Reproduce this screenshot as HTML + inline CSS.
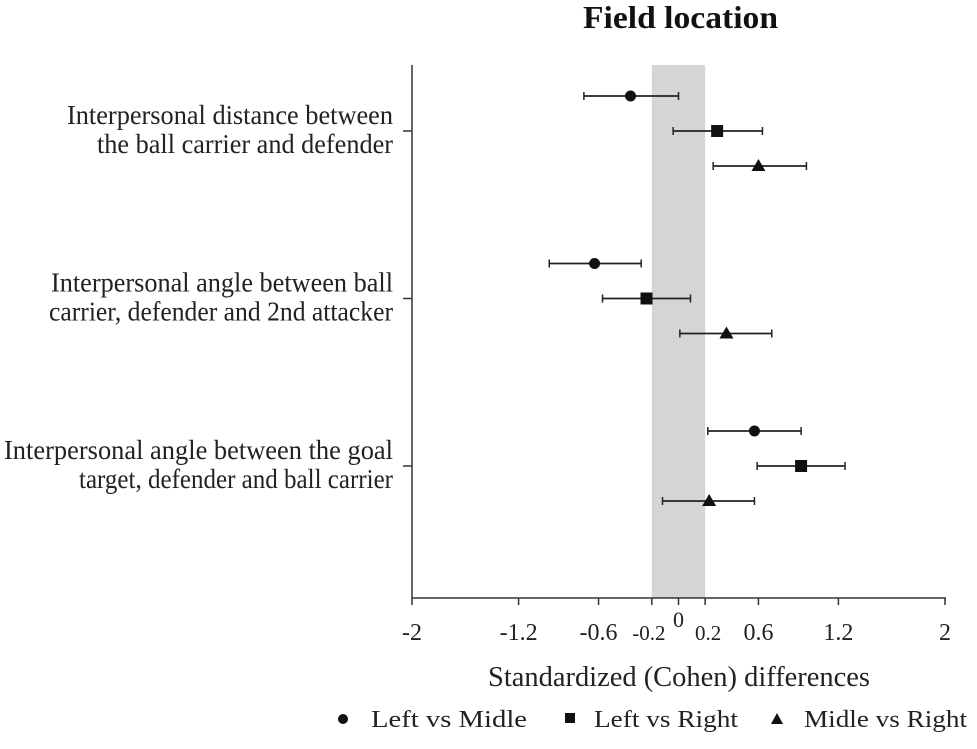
<!DOCTYPE html>
<html><head><meta charset="utf-8"><style>
body{margin:0;background:#fff;}
svg{display:block;font-family:"Liberation Serif",serif;}
</style></head><body>
<svg id="chart" width="977" height="749" viewBox="0 0 977 749">
<text x="583" y="28" textLength="195" lengthAdjust="spacingAndGlyphs" font-size="32" font-weight="bold" fill="#111">Field location</text>
<g id="plot"></g>
<g font-size="24" fill="#222">
<g><circle cx="343" cy="719" r="5" fill="#111"/><text x="371" y="727" textLength="156" lengthAdjust="spacingAndGlyphs">Left vs Midle</text></g>
<g><rect x="565" y="713" width="10" height="10" fill="#111"/><text x="594" y="727" textLength="144" lengthAdjust="spacingAndGlyphs">Left vs Right</text></g>
<g><polygon points="777,713 783,724 771,724" fill="#111"/><text x="804" y="727" textLength="163" lengthAdjust="spacingAndGlyphs">Midle vs Right</text></g>
</g>
</svg>
<script>
const categories=[["Interpersonal distance between","the ball carrier and defender"],["Interpersonal angle between ball","carrier, defender and 2nd attacker"],["Interpersonal angle between the goal","target, defender and ball carrier"]];
const catWidths=[[326,296],[342,344],[389,314]];
const seriesNames=["Left vs Midle","Left vs Right","Midle vs Right"];
const estimates=[[-0.36,0.29,0.60],[-0.63,-0.24,0.36],[0.57,0.92,0.23]];
const lowers=[[-0.71,-0.04,0.26],[-0.97,-0.57,0.01],[0.22,0.59,-0.12]];
const uppers=[[0.00,0.63,0.96],[-0.28,0.09,0.70],[0.92,1.25,0.57]];
const tickValues=[-2,-1.2,-0.6,-0.2,0,0.2,0.6,1.2,2];
const tickLabels=["-2","-1.2","-0.6","-0.2","0","0.2","0.6","1.2","2"];
const bandRange=[-0.2,0.2];

const NS="http://www.w3.org/2000/svg";
const g=document.getElementById('plot');
const x=v=>678.5+v*133.25;
const yCat=i=>131+i*167.5;
const offs=[-35,0,35];
function el(t,a,p){const e=document.createElementNS(NS,t);for(const k in a)e.setAttribute(k,a[k]);(p||g).appendChild(e);return e;}

const band=el('rect',{x:x(bandRange[0]),y:65,width:x(bandRange[1])-x(bandRange[0]),height:533,fill:'#d3d6d3'});


const ya=el('line',{x1:412,y1:65,x2:412,y2:598,stroke:'#333','stroke-width':1.5});


const xa=el('line',{x1:412,y1:598,x2:946,y2:598,stroke:'#333','stroke-width':1.5});


tickValues.forEach((v,i)=>{
  el('line',{x1:x(v),y1:598,x2:x(v),y2:605,stroke:'#333','stroke-width':1.5});
  const small=Math.abs(v)===0.2;
  const t=el('text',{x:x(v)+(v===-0.2?-3:v===0.2?3:0),y:v===0?627:640,'text-anchor':'middle','font-size':small?21:(v===0?22:24),fill:'#222'});
  t.textContent=tickLabels[i];
  
  
});
const xt=el('text',{x:488,y:686,textLength:382,lengthAdjust:'spacingAndGlyphs','font-size':28,fill:'#222'});
xt.textContent="Standardized (Cohen) differences";


categories.forEach((c,i)=>{
  const yc=yCat(i);
  el('line',{x1:403,y1:yc,x2:412,y2:yc,stroke:'#333','stroke-width':1.5});
  c.forEach((ln,j)=>{
    const w=catWidths[i][j];
    const t=el('text',{x:393-w,y:yc-7+j*29,textLength:w,lengthAdjust:'spacingAndGlyphs','font-size':27,fill:'#222'});
    t.textContent=ln;
    
    
  });
  for(let s=0;s<3;s++){
    const yy=yc+offs[s];
    const l=el('line',{x1:x(lowers[i][s]),y1:yy,x2:x(uppers[i][s]),y2:yy,stroke:'#222','stroke-width':1.8});
    
    
    el('line',{x1:x(lowers[i][s]),y1:yy-4,x2:x(lowers[i][s]),y2:yy+4,stroke:'#222','stroke-width':1.5});
    el('line',{x1:x(uppers[i][s]),y1:yy-4,x2:x(uppers[i][s]),y2:yy+4,stroke:'#222','stroke-width':1.5});
    const cx=x(estimates[i][s]);let m;
    if(s===0)m=el('circle',{cx:cx,cy:yy,r:5.5,fill:'#111'});
    else if(s===1)m=el('rect',{x:cx-6,y:yy-6,width:12,height:12,fill:'#111'});
    else m=el('polygon',{points:`${cx},${yy-7} ${cx+7},${yy+5} ${cx-7},${yy+5}`,fill:'#111'});
    
    
  }
});
</script>
</body></html>
